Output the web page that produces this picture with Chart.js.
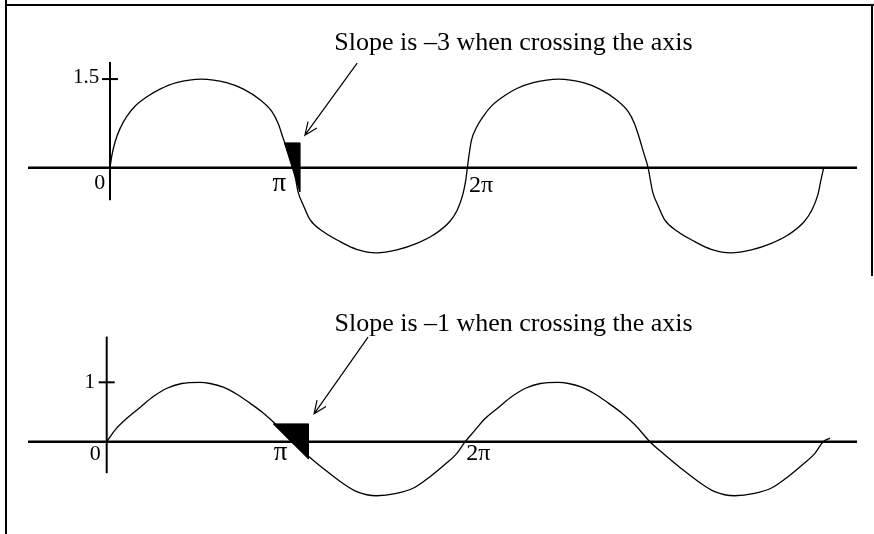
<!DOCTYPE html>
<html>
<head>
<meta charset="utf-8">
<script src="https://cdn.jsdelivr.net/npm/chart.js@4"></script>
<style>
  body { margin: 0; background: #fff; }
  #wrap { position: relative; width: 874px; height: 534px; overflow: hidden; }
  canvas { position: absolute; left: 0; }
  #topCanvas { top: 0; }
  #bottomCanvas { top: 270px; }
  .edge { position: absolute; background: #000; }
</style>
</head>
<body>
<div id="wrap">
  <canvas id="topCanvas" width="874" height="270"></canvas>
  <canvas id="bottomCanvas" width="874" height="264"></canvas>
  <div class="edge" style="left:5px;top:0;width:2px;height:534px"></div>
  <div class="edge" style="left:5px;top:4px;width:869px;height:2px"></div>
  <div class="edge" style="left:871px;top:4px;width:2px;height:272px"></div>
</div>
<script>
// top curve: slope -3 at the crossings, peak 1.5 (x in radians)
const topX = [0, 0.03, 0.09, 0.18, 0.29, 0.44, 0.65, 0.88, 1.17, 1.61, 2.05, 2.35, 2.64, 2.85, 2.96, 3.04, 3.14, 3.23,
  3.31, 3.40, 3.52, 3.75, 4.05, 4.34, 4.69, 5.05, 5.40, 5.69, 5.98, 6.11, 6.21, 6.26, 6.29,
  6.32, 6.36, 6.45, 6.57, 6.72, 6.93, 7.16, 7.45, 7.89, 8.33, 8.62, 8.91, 9.12, 9.23, 9.31, 9.39, 9.47,
  9.55, 9.64, 9.76, 9.99, 10.29, 10.58, 10.93, 11.29, 11.64, 11.93, 12.22, 12.35, 12.46, 12.51, 12.56];
const topY = [0, 0.19, 0.44, 0.67, 0.86, 1.04, 1.20, 1.33, 1.44, 1.50, 1.44, 1.33, 1.15, 0.95, 0.75, 0.52, 0.24, 0,
  -0.41, -0.63, -0.88, -1.08, -1.25, -1.38, -1.44, -1.39, -1.28, -1.14, -0.91, -0.72, -0.45, -0.22, 0,
  0.22, 0.46, 0.68, 0.87, 1.05, 1.21, 1.34, 1.44, 1.50, 1.44, 1.33, 1.15, 0.95, 0.75, 0.52, 0.26, 0,
  -0.41, -0.63, -0.88, -1.08, -1.25, -1.38, -1.44, -1.39, -1.28, -1.14, -0.91, -0.72, -0.45, -0.22, 0];

// bottom curve: slope -1 at the crossings, peak 1
const bottomX = [0, 0.15, 0.35, 0.59, 0.82, 1.06, 1.32, 1.64, 1.82, 2.05, 2.29, 2.52, 2.76, 2.99, 3.26,
  3.52, 3.81, 4.11, 4.40, 4.75, 5.10, 5.40, 5.69, 5.98, 6.16, 6.31,
  6.46, 6.66, 6.90, 7.13, 7.37, 7.63, 7.95, 8.13, 8.36, 8.60, 8.83, 9.07, 9.30, 9.56,
  9.82, 10.11, 10.41, 10.70, 11.05, 11.40, 11.70, 11.99, 12.28, 12.46, 12.61, 12.73];
const bottomY = [0, 0.20, 0.39, 0.58, 0.76, 0.90, 0.98, 1.0, 0.98, 0.92, 0.80, 0.65, 0.48, 0.28, 0,
  -0.22, -0.45, -0.67, -0.84, -0.91, -0.87, -0.78, -0.59, -0.36, -0.20, 0,
  0.17, 0.39, 0.58, 0.76, 0.90, 0.98, 1.0, 0.98, 0.92, 0.80, 0.65, 0.48, 0.28, 0,
  -0.22, -0.45, -0.67, -0.84, -0.91, -0.87, -0.78, -0.59, -0.36, -0.20, 0, 0.06];

// tangent triangles at the first pi crossing
const topTriX = [3.07, 3.34, 3.34, 3.07];
const topTriY = [0.42, 0.42, -0.41, 0.42];
const bottomTriX = [2.93, 3.55, 3.55, 2.93];
const bottomTriY = [0.30, 0.30, -0.29, 0.30];

const serif = '"Liberation Serif", "DejaVu Serif", serif';

function pts(xs, ys) {
  return xs.map((x, i) => ({ x: x, y: ys[i] }));
}

// axes, ticks, labels, arrow and note, all placed through the chart scales
const decor = {
  id: 'decor',
  afterDatasetsDraw(chart, args, o) {
    const ctx = chart.ctx;
    const xs = chart.scales.x, ys = chart.scales.y;
    const px = v => xs.getPixelForValue(v);
    const py = v => ys.getPixelForValue(v);
    ctx.save();
    ctx.strokeStyle = '#000';
    ctx.fillStyle = '#000';
    // horizontal axis
    ctx.lineWidth = 2.5;
    ctx.beginPath();
    ctx.moveTo(px(o.hAxis[0]), py(0));
    ctx.lineTo(px(o.hAxis[1]), py(0));
    ctx.stroke();
    // vertical axis
    ctx.lineWidth = 2;
    ctx.beginPath();
    ctx.moveTo(px(0), py(o.vAxis[0]));
    ctx.lineTo(px(0), py(o.vAxis[1]));
    ctx.stroke();
    // y tick
    ctx.beginPath();
    ctx.moveTo(px(0) - 8, py(o.yTick));
    ctx.lineTo(px(0) + 8, py(o.yTick));
    ctx.stroke();
    // labels
    ctx.textAlign = 'center';
    ctx.textBaseline = 'middle';
    o.labels.forEach(l => {
      ctx.font = l.size + 'px ' + serif;
      ctx.fillText(l.text, px(l.x), py(l.y));
    });
    // arrow
    const tx = px(o.arrow[0]), ty = py(o.arrow[1]);
    const hx = px(o.arrow[2]), hy = py(o.arrow[3]);
    ctx.lineWidth = 1.2;
    ctx.beginPath();
    ctx.moveTo(tx, ty);
    ctx.lineTo(hx, hy);
    const a = Math.atan2(hy - ty, hx - tx);
    ctx.moveTo(hx - 14 * Math.cos(a - 0.4), hy - 14 * Math.sin(a - 0.4));
    ctx.lineTo(hx, hy);
    ctx.lineTo(hx - 14 * Math.cos(a + 0.4), hy - 14 * Math.sin(a + 0.4));
    ctx.stroke();
    // note
    ctx.font = '26px ' + serif;
    ctx.fillText(o.note.text, px(o.note.x), py(o.note.y));
    ctx.restore();
  }
};

function makeChart(id, curve, tri, xr, yr, deco) {
  return new Chart(document.getElementById(id), {
    type: 'scatter',
    data: {
      datasets: [{
        data: curve,
        showLine: true,
        borderColor: '#000',
        borderWidth: 1.3,
        pointRadius: 0,
        cubicInterpolationMode: 'monotone',
        clip: false
      }, {
        data: tri,
        showLine: true,
        borderColor: '#000',
        borderWidth: 1,
        backgroundColor: '#000',
        fill: 'shape',
        pointRadius: 0,
        tension: 0
      }]
    },
    options: {
      responsive: false,
      animation: false,
      layout: { padding: 0 },
      scales: {
        x: { type: 'linear', min: xr[0], max: xr[1], display: false },
        y: { type: 'linear', min: yr[0], max: yr[1], display: false }
      },
      plugins: {
        legend: { display: false },
        tooltip: { enabled: false },
        decor: deco
      }
    },
    plugins: [decor]
  });
}

makeChart('topCanvas', pts(topX, topY), pts(topTriX, topTriY),
  [-1.936, 13.446], [-1.731, 2.838], {
    hAxis: [-1.443, 13.147],
    vAxis: [-0.55, 1.79],
    yTick: 1.5,
    labels: [
      { text: '0', x: -0.18, y: -0.26, size: 22 },
      { text: 'π', x: 2.98, y: -0.28, size: 27 },
      { text: '2π', x: 6.53, y: -0.31, size: 24 },
      { text: '1.5', x: -0.42, y: 1.52, size: 21 }
    ],
    arrow: [4.35, 1.77, 3.43, 0.55],
    note: { text: 'Slope is –3 when crossing the axis', x: 7.1, y: 2.1 }
  });

makeChart('bottomCanvas', pts(bottomX, bottomY), pts(bottomTriX, bottomTriY),
  [-1.878, 13.504], [-1.554, 2.891], {
    hAxis: [-1.385, 13.205],
    vAxis: [-0.53, 1.77],
    yTick: 1,
    labels: [
      { text: '0', x: -0.2, y: -0.21, size: 22 },
      { text: 'π', x: 3.06, y: -0.19, size: 27 },
      { text: '2π', x: 6.54, y: -0.2, size: 24 },
      { text: '1', x: -0.30, y: 1.0, size: 21 }
    ],
    arrow: [4.60, 1.76, 3.65, 0.47],
    note: { text: 'Slope is –1 when crossing the axis', x: 7.16, y: 1.98 }
  });
</script>
</body>
</html>
